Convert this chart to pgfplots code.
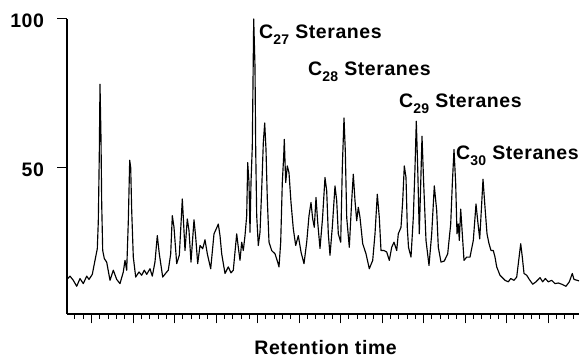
\documentclass[border=0pt]{standalone}
\usepackage{fontspec}
\setmainfont{Liberation Sans}
\usepackage{pgfplots}
\pgfplotsset{compat=1.18}
\newcommand\lab{\fontsize{19.5}{22}\selectfont\bfseries\addfontfeature{LetterSpace=3}}
\newcommand\sub[1]{\raisebox{-6pt}{\fontsize{14}{14}\selectfont\bfseries #1}}
\begin{document}
\begin{tikzpicture}
\useasboundingbox (0,0) rectangle (580pt,358pt);
\begin{axis}[
  at={(67pt,44pt)}, anchor=south west,
  scale only axis, width=512pt, height=295pt,
  xmin=67, xmax=579, ymin=1, ymax=100,
  axis x line*=bottom, axis y line*=left,
  axis line style={-, line width=1.3pt},
  tick align=outside,
  major tick length=9.5pt, minor tick length=5pt,
  every tick/.style={black, line width=1pt},
  xtick={91.6,133.1,...,550}, minor xtick={75.0,83.3,...,578},
  xticklabels={},
  ytick={50,100}, minor ytick={},
  yticklabel style={font=\lab, /pgf/number format/assume math mode=true, anchor=east, xshift=-10pt, yshift=-2pt},
  xlabel={\lab Retention time},
  xlabel style={at={(axis description cs:0.505,0)}, anchor=base, yshift=-40.5pt},
  clip=false,
]
\addplot[black, line width=1.15pt, line join=round] coordinates {
(67.7,12.9) (70,13.7) (73.3,12.3) (76.7,10.3) (80,12.9) (83.3,11.2) (86.7,13.7) (89,12.6)
(92.3,14.3) (95,19) (97.3,22.9) (98.3,32) (99.3,54.6) (100,78.1) (101,60) (101.7,38)
(102.7,22.3) (104.3,19.6) (106.7,18.4) (110,12.3) (113.3,15.7) (116.7,12.6) (120,11.2)
(123.3,15.1) (125,19) (126.7,15.7) (128.3,32) (129.7,52.6) (130.7,50.1) (131.7,35.7)
(133.3,20.1) (135.7,13.4) (139,15.1) (141.7,14) (144.3,15.7) (146.7,14.3) (150,16.2)
(152.3,13.7) (155,18.5) (157.3,27.3) (159.3,21.2) (162.7,13.4) (166,14.8) (168.3,15.7)
(170.7,21.2) (172.3,34) (174,30.1) (176.7,17.9) (179.3,20.7) (181,31.2) (182.3,39.6)
(183.3,33.4) (185,22.3) (187.3,32.9) (189,29) (191,18.4) (194,32.6) (195.7,26.8)
(197.7,17.9) (200,24) (202.7,22.9) (205,25.9) (207.3,21.2) (210.7,16.2) (214,27.9)
(216.7,29.9) (218.3,31.2) (220,27.3) (221.7,21.2) (225,14.6) (228.3,16.8) (231,14.8)
(233.3,15.7) (235,21.8) (236.7,27.9) (238.3,23.4) (240,19) (241.7,25.1) (243.3,22.3)
(245,27.3) (246.7,34) (247.7,51.8) (249,45.1) (250,28.4) (251,45.1) (252.3,57.3)
(253.7,100) (255,84) (255.7,56.2) (256.7,34) (258.3,24) (260,28.4) (261.7,42.9)
(263.3,58.4) (264.7,65.1) (266,56.2) (267.3,39.6) (269,25.1) (271.7,22.3) (275,21.2)
(277.7,18.4) (279,16.8) (280.7,25.1) (282.3,45.1) (283.7,54) (284.3,59.6) (285.7,45.1)
(287.3,50.7) (289,48.4) (291,38.4) (293.3,29.6) (295.7,24) (298.3,27.3) (301,21.8)
(304,17.9) (306.7,25.1) (309,34) (311,38.4) (312.7,32.9) (314.3,30.1) (316,40.1)
(317.7,31.8) (320,23) (322.5,33) (325,46.8) (326.7,42.3) (328.3,27.9) (330,20.7)
(332.3,30.1) (335,44) (336.7,39) (338.3,27.9) (340.7,25.1) (342.3,50.1) (344,66.8)
(345.3,55.7) (346.7,33.4) (349.3,23.4) (351.7,39) (353.3,47.9) (355,39) (356.7,32.3)
(358.3,36.8) (360,33.4) (362.7,24.6) (366,21.2) (369.3,16.2) (372.7,19) (375,27.9)
(377.3,41.2) (379.3,33.4) (381,22.3) (384,22.3) (386.7,21.8) (389.3,19) (391.7,23.4)
(394,25.1) (396.7,22.3) (398.3,27.9) (401,30.1) (402.7,39) (404.3,50.7) (406,46.8)
(407.3,30) (408.5,23.4) (411,20.1) (413.3,33.4) (415,50.1) (416.3,65.7) (417.7,50.1)
(419.3,27.9) (420.7,44.6) (422,60.7) (423.7,44.6) (426,25.7) (429,17.3) (431.7,27.9)
(434.3,44) (436.7,35.7) (438.3,23.4) (441,18.4) (444.3,18.8) (447.7,21.2) (450.7,31.2)
(452.3,44.6) (454,56.2) (455.7,44.6) (457,27.9) (458.3,31.2) (459.3,25.7) (460.7,36.2)
(462.3,27.9) (464,19) (466.7,20.1) (470,20.1) (473.3,25.7) (476,37.9) (477.7,32.3)
(479.7,26.2) (481.3,35.7) (483,46.2) (485,36.8) (487,27.9) (489,24.6) (491,22.3)
(493.3,22.3) (495,20.1) (496.7,16.8) (500,14) (503.3,12.9) (505,12.3) (508.3,11.8)
(510.7,12.9) (514,12.3) (516.7,13.4) (518.7,19) (520.7,24.6) (522.3,20.1) (524,14.6)
(526.7,14) (529.3,12.6) (532.7,11) (536,11.8) (540,13.2) (542.7,11.8) (545.3,12.9)
(548.3,11.8) (551.7,12.3) (555,11.2) (558.3,11.4) (561.7,11) (566,10.3) (569.3,11.8)
(572.3,14.6) (574,12.6) (577.3,12.3) (579,12.1)
};
\node[anchor=base west, inner sep=0pt] at (axis cs:259,93.3) {\lab C\sub{27} Steranes};
\node[anchor=base west, inner sep=0pt] at (axis cs:308,81) {\lab C\sub{28} Steranes};
\node[anchor=base west, inner sep=0pt] at (axis cs:399,70.3) {\lab C\sub{29} Steranes};
\node[anchor=base west, inner sep=0pt] at (axis cs:456,53) {\lab C\sub{30} Steranes};
\end{axis}
\end{tikzpicture}
\end{document}
